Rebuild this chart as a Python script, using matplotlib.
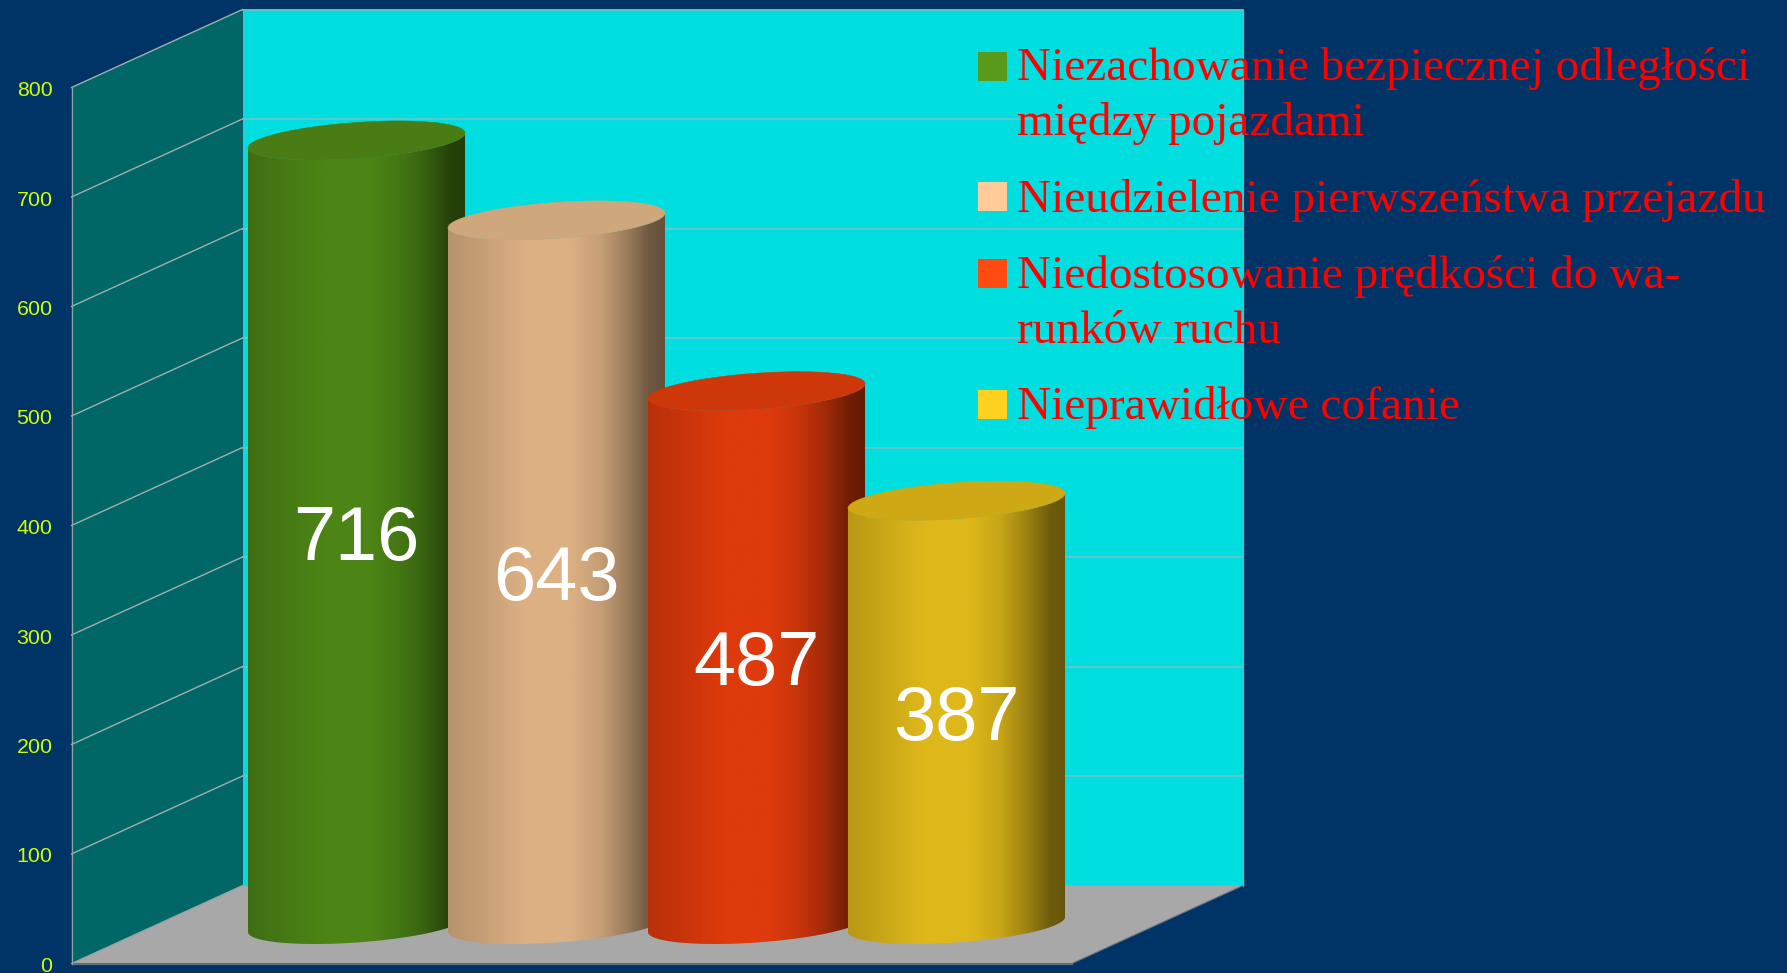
import numpy as np
import matplotlib
matplotlib.use("Agg")
import matplotlib.pyplot as plt
from matplotlib.patches import Polygon, Rectangle

# ---- data ----
values = [716, 643, 487, 387]
legend_labels = [
    "Niezachowanie bezpiecznej odległości\nmiędzy pojazdami",
    "Nieudzielenie pierwszeństwa przejazdu",
    "Niedostosowanie prędkości do wa-\nrunków ruchu",
    "Nieprawidłowe cofanie",
]
y_ticks = [0, 100, 200, 300, 400, 500, 600, 700, 800]

# ---- styles ----
bg = "#003366"
wall_c = "#006666"
back_c = "#00DEDF"
floor_c = "#A8A8A8"
tick_c = "#CCFF00"
swatches = ["#589A1A", "#FFCC99", "#FF4A12", "#FFD11F"]
side_main = ["#4C8516", "#DCB083", "#DE3A0C", "#DEB81A"]
top_main = ["#497C14", "#CFA77D", "#CE370A", "#CEA915"]

W, H = 1787, 973
PX_CAT = 200.0      # px per category
PX_VAL = 1.095      # px per value unit
X0, Y0 = 356.5, 924.5  # px of category 0, value 0 (mid-depth)

fig = plt.figure(figsize=(W / 100, H / 100), dpi=100, facecolor=bg)
ax = fig.add_axes([0, 0, 1, 1])
ax.set_axis_off()

# depth offsets, in data units
DX = 85.5 / PX_CAT
DY = 39.0 / PX_VAL
# chart extent in category units
LEFT = (157.0 - X0) / PX_CAT
RIGHT = (1157.5 - X0) / PX_CAT
YMAX = y_ticks[-1]


def fpt(cat, val, depth):
    """Point at category/value; depth -1 = front, +1 = back."""
    return (cat + depth * DX, val + depth * DY)


# side wall
ax.add_patch(Polygon([fpt(LEFT, 0, -1), fpt(LEFT, 0, 1), fpt(LEFT, YMAX, 1), fpt(LEFT, YMAX, -1)],
                     closed=True, fc=wall_c, ec="none", zorder=1))
# back wall
ax.add_patch(Polygon([fpt(LEFT, 0, 1), fpt(RIGHT, 0, 1), fpt(RIGHT, YMAX, 1), fpt(LEFT, YMAX, 1)],
                     closed=True, fc=back_c, ec="none", zorder=1))
# floor
ax.add_patch(Polygon([fpt(LEFT, 0, -1), fpt(RIGHT, 0, -1), fpt(RIGHT, 0, 1), fpt(LEFT, 0, 1)],
                     closed=True, fc=floor_c, ec="none", zorder=2))
# floor edges
for a, b in [(fpt(LEFT, 0, -1), fpt(RIGHT, 0, -1)), (fpt(RIGHT, 0, -1), fpt(RIGHT, 0, 1))]:
    ax.plot([a[0], b[0]], [a[1], b[1]], color="#66727C", lw=0.8, zorder=2.1)

# grid lines
for v in y_ticks[1:]:
    a, b, c = fpt(LEFT, v, -1), fpt(LEFT, v, 1), fpt(RIGHT, v, 1)
    ax.plot([a[0], b[0]], [a[1], b[1]], color="#A0AEAE", lw=1.0, zorder=1.5)
    ax.plot([b[0], c[0]], [b[1], c[1]], color="#66C6C9", lw=1.3, zorder=1.5)
# wall outlines
for a, b, col in [
    (fpt(LEFT, 0, -1), fpt(LEFT, YMAX, -1), "#8FA6A6"),
    (fpt(LEFT, 0, 1), fpt(LEFT, YMAX, 1), "#8FA6A6"),
    (fpt(RIGHT, 0, 1), fpt(RIGHT, YMAX, 1), "#8FA6AC"),
    (fpt(LEFT, 0, -1), fpt(LEFT, 0, 1), "#8FA6A6"),
]:
    ax.plot([a[0], b[0]], [a[1], b[1]], color=col, lw=0.9, zorder=2.2)

# cylinders
HALF = 108.5 / PX_CAT
SKEW = 7.5 / PX_VAL
K = 18.0 / PX_VAL
pos = np.linspace(0, 1, 256)
side_stops = [0.0, 0.15, 0.35, 0.56, 0.70, 0.82, 0.93, 1.0]
side_gain = [0.83, 0.90, 1.0, 1.0, 0.90, 0.72, 0.50, 0.46]
top_stops = [0.0, 0.5, 1.0]
top_gain = [1.0, 1.0, 1.0]


def ell(cat, val, t):
    return cat + HALF * np.cos(t), val + SKEW * np.cos(t) - K * np.sin(t)


def grad(rgb, stops, gain):
    g = np.interp(pos, stops, gain)[None, :, None]
    return np.clip(np.array(matplotlib.colors.to_rgb(rgb))[None, None, :] * g, 0, 1)


for i, v in enumerate(values):
    z = 3 + i
    t_low = np.linspace(0, np.pi, 120)
    bx, by = ell(i, 0, t_low)
    tx, ty = ell(i, v, t_low[::-1])
    verts = np.column_stack([np.r_[bx, tx], np.r_[by, ty]])
    clip = Polygon(verts, closed=True, transform=ax.transData, fc="none", ec="none")
    ax.add_patch(clip)
    im = ax.imshow(grad(side_main[i], side_stops, side_gain), aspect="auto",
                   extent=(i - HALF, i + HALF, -30, v + 30), zorder=z, interpolation="bilinear")
    im.set_clip_path(clip)
    t = np.linspace(0, 2 * np.pi, 240)
    ex, ey = ell(i, v, t)
    ax.add_patch(Polygon(np.column_stack([ex, ey]), closed=True, fc=top_main[i],
                         ec=top_main[i], lw=0.4, zorder=z + 0.1))
    ax.text(i, v / 2, str(v), color="white", ha="center", va="center_baseline",
            family="Liberation Sans", fontsize=54.5, zorder=20)

ax.set_xlim(-X0 / PX_CAT, (W - X0) / PX_CAT)
ax.set_ylim((Y0 - H) / PX_VAL, Y0 / PX_VAL)

# tick labels
tick_x = (52.5 - X0) / PX_CAT
for v in y_ticks:
    _, yy = fpt(LEFT, v, -1)
    ax.text(tick_x, yy - 1.0 / PX_VAL, str(v), color=tick_c, ha="right", va="center_baseline",
            family="Liberation Sans", fontsize=15.4, zorder=20, clip_on=False)

# legend
text_x = (1017.0 - X0) / PX_CAT
sw_x = (978.0 - X0) / PX_CAT
sw_w = 29.0 / PX_CAT
sw_h = 29.0 / PX_VAL
baselines = [[80, 135], [212], [288, 343], [419]]
sw_tops = [52, 182, 259, 390]
for label, col, bl, st in zip(legend_labels, swatches, baselines, sw_tops):
    ax.add_patch(Rectangle((sw_x, (Y0 - st) / PX_VAL - sw_h), sw_w, sw_h, fc=col, ec="none", zorder=30))
    for line, b in zip(label.split("\n"), bl):
        ax.text(text_x, (Y0 - b) / PX_VAL, line, color="#FF0000", ha="left", va="baseline",
                family="Liberation Serif", fontsize=34.05, zorder=31)

fig.savefig("out.png", dpi=100, facecolor=bg)
